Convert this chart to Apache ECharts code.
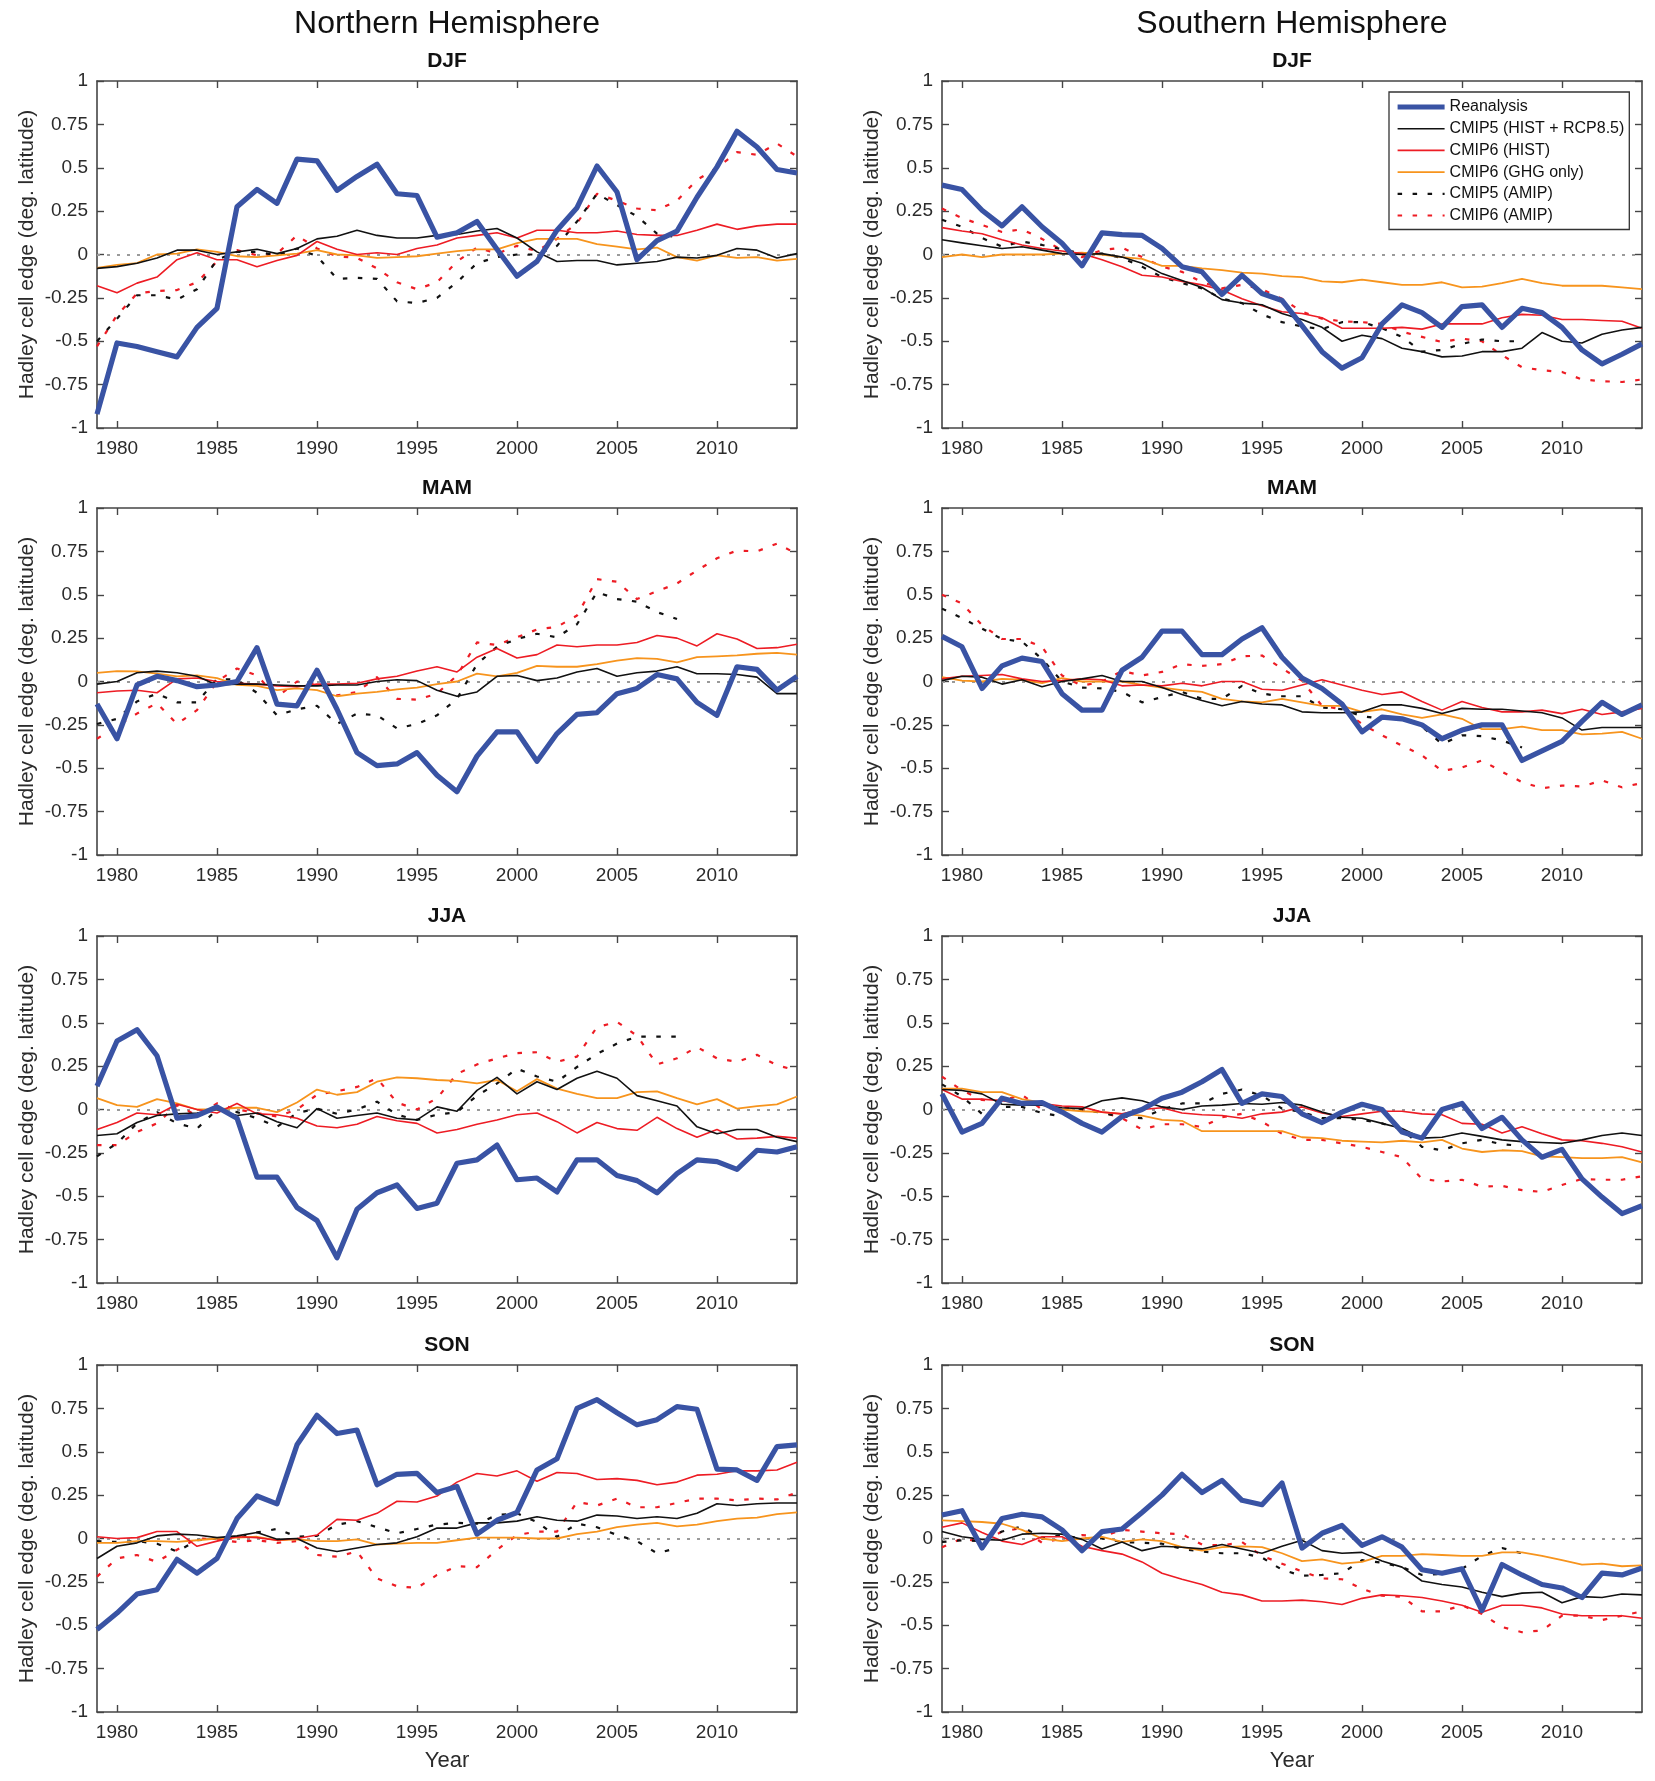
<!DOCTYPE html>
<html>
<head>
<meta charset="utf-8">
<script src="https://cdn.jsdelivr.net/npm/echarts@6/dist/echarts.min.js"></script>
<style>
html,body{margin:0;padding:0;background:#fff;}
#chart{width:1655px;height:1781px;}
</style>
</head>
<body>
<div id="chart"></div>
<script>
// ---------- categories & ticks ----------
const years = [1979,1980,1981,1982,1983,1984,1985,1986,1987,1988,1989,1990,1991,1992,1993,1994,1995,1996,1997,1998,1999,2000,2001,2002,2003,2004,2005,2006,2007,2008,2009,2010,2011,2012,2013,2014];
const xTickYears = [1980,1985,1990,1995,2000,2005,2010];
const seasons = ['DJF','MAM','JJA','SON'];
const hemispheres = ['Northern Hemisphere','Southern Hemisphere'];
const seriesNames = ['Reanalysis','CMIP5 (HIST + RCP8.5)','CMIP6 (HIST)','CMIP6 (GHG only)','CMIP5 (AMIP)','CMIP6 (AMIP)'];

// ---------- NH DJF ----------
const nhDjfRea   = [-0.92,-0.51,-0.53,-0.56,-0.59,-0.42,-0.31,0.275,0.375,0.295,0.55,0.54,0.37,0.45,0.52,0.35,0.34,0.10,0.125,0.19,0.03,-0.125,-0.04,0.14,0.27,0.51,0.36,-0.03,0.08,0.135,0.33,0.505,0.71,0.62,0.49,0.47];
const nhDjfC5    = [-0.08,-0.07,-0.05,-0.02,0.025,0.025,0,0.015,0.03,0.005,0.035,0.09,0.105,0.14,0.11,0.095,0.095,0.11,0.115,0.135,0.15,0.095,0.015,-0.04,-0.035,-0.035,-0.06,-0.05,-0.04,-0.015,-0.02,-0.005,0.035,0.025,-0.02,0.005];
const nhDjfC6    = [-0.18,-0.22,-0.165,-0.13,-0.03,0.01,-0.03,-0.03,-0.07,-0.035,-0.005,0.075,0.03,0,0.01,0,0.035,0.055,0.095,0.11,0.125,0.095,0.14,0.14,0.125,0.125,0.135,0.115,0.11,0.11,0.14,0.175,0.145,0.165,0.175,0.175];
const nhDjfGhg   = [-0.077,-0.06,-0.05,0,0.005,0.03,0.015,-0.01,-0.015,-0.005,0.005,0.025,0,-0.005,-0.02,-0.015,-0.01,0.005,0.02,0.03,0.03,0.065,0.09,0.09,0.09,0.06,0.045,0.03,0.04,-0.015,-0.035,-0.005,-0.02,-0.015,-0.035,-0.025];
const nhDjfAmip5 = [-0.5,-0.37,-0.235,-0.235,-0.26,-0.2,-0.03,0.015,0.015,-0.005,0.035,-0.01,-0.14,-0.135,-0.14,-0.27,-0.28,-0.25,-0.16,-0.05,-0.015,0,0,0.05,0.19,0.35,0.285,0.22,0.12,0.1];
const nhDjfAmip6 = [-0.53,-0.35,-0.225,-0.21,-0.205,-0.16,-0.04,0.025,-0.005,0.005,0.11,0.035,-0.01,-0.02,-0.08,-0.16,-0.2,-0.16,-0.04,0.04,0.005,0.05,0.02,0.09,0.18,0.35,0.31,0.265,0.255,0.31,0.43,0.5,0.59,0.575,0.64,0.565];

// ---------- SH DJF ----------
const shDjfRea   = [0.40,0.375,0.255,0.165,0.275,0.16,0.065,-0.065,0.125,0.115,0.11,0.035,-0.07,-0.1,-0.23,-0.12,-0.225,-0.265,-0.41,-0.56,-0.655,-0.595,-0.40,-0.29,-0.335,-0.42,-0.30,-0.29,-0.42,-0.31,-0.335,-0.42,-0.55,-0.63,-0.575,-0.515];
const shDjfC5    = [0.085,0.067,0.05,0.035,0.045,0.025,0.005,0,0.005,-0.015,-0.05,-0.11,-0.15,-0.19,-0.26,-0.28,-0.29,-0.34,-0.375,-0.42,-0.50,-0.465,-0.485,-0.54,-0.56,-0.59,-0.585,-0.56,-0.56,-0.54,-0.45,-0.50,-0.51,-0.46,-0.435,-0.42];
const shDjfC6    = [0.155,0.135,0.12,0.085,0.055,0.035,0.02,0.005,-0.03,-0.07,-0.12,-0.13,-0.155,-0.175,-0.205,-0.255,-0.295,-0.33,-0.34,-0.365,-0.425,-0.425,-0.425,-0.42,-0.43,-0.40,-0.40,-0.40,-0.365,-0.345,-0.35,-0.375,-0.375,-0.38,-0.385,-0.425];
const shDjfGhg   = [-0.015,0,-0.015,0,0,0,0.005,0.01,0,-0.015,-0.025,-0.065,-0.065,-0.08,-0.09,-0.105,-0.11,-0.125,-0.13,-0.155,-0.16,-0.145,-0.16,-0.175,-0.175,-0.16,-0.19,-0.185,-0.165,-0.14,-0.165,-0.18,-0.18,-0.18,-0.19,-0.20];
const shDjfAmip5 = [0.2,0.16,0.095,0.045,0.075,0.055,0.03,0.005,0.005,-0.02,-0.07,-0.13,-0.165,-0.195,-0.255,-0.28,-0.345,-0.39,-0.415,-0.43,-0.39,-0.39,-0.425,-0.475,-0.56,-0.55,-0.515,-0.49,-0.50,-0.50];
const shDjfAmip6 = [0.265,0.21,0.17,0.13,0.145,0.09,0.025,-0.015,0.025,0.04,-0.015,-0.07,-0.1,-0.16,-0.195,-0.175,-0.2,-0.255,-0.33,-0.37,-0.385,-0.39,-0.40,-0.445,-0.475,-0.505,-0.485,-0.50,-0.58,-0.65,-0.667,-0.677,-0.72,-0.73,-0.735,-0.72];

// ---------- NH MAM ----------
const nhMamRea   = [-0.13,-0.33,-0.02,0.03,0.005,-0.03,-0.02,0,0.195,-0.13,-0.14,0.065,-0.16,-0.41,-0.485,-0.475,-0.41,-0.54,-0.635,-0.43,-0.29,-0.29,-0.46,-0.30,-0.19,-0.18,-0.07,-0.04,0.04,0.015,-0.12,-0.195,0.085,0.07,-0.05,0.03];
const nhMamC5    = [-0.015,0,0.05,0.06,0.05,0.03,-0.02,-0.015,-0.015,-0.02,-0.025,-0.025,-0.02,-0.02,0,0.01,0.005,-0.05,-0.085,-0.06,0.03,0.035,0.005,0.02,0.055,0.075,0.03,0.05,0.06,0.085,0.045,0.045,0.04,0.025,-0.07,-0.07];
const nhMamC6    = [-0.065,-0.055,-0.05,-0.065,0.015,0.02,0,-0.01,-0.015,-0.025,-0.03,-0.015,-0.015,-0.01,0.015,0.03,0.06,0.085,0.055,0.14,0.19,0.135,0.155,0.21,0.2,0.21,0.21,0.225,0.265,0.25,0.205,0.275,0.245,0.19,0.195,0.215];
const nhMamGhg   = [0.05,0.06,0.058,0.045,0.03,0.035,0.02,-0.02,-0.025,-0.05,-0.04,-0.05,-0.085,-0.07,-0.06,-0.045,-0.035,-0.015,0,0.045,0.03,0.05,0.09,0.085,0.085,0.10,0.12,0.135,0.13,0.11,0.14,0.145,0.15,0.16,0.165,0.155];
const nhMamAmip5 = [-0.245,-0.215,-0.115,-0.07,-0.12,-0.12,0.015,0.01,-0.065,-0.195,-0.16,-0.14,-0.245,-0.185,-0.195,-0.27,-0.245,-0.195,-0.10,0.10,0.2,0.245,0.275,0.255,0.33,0.515,0.475,0.46,0.40,0.36];
const nhMamAmip6 = [-0.33,-0.255,-0.185,-0.125,-0.245,-0.165,0,0.075,0.035,-0.09,0,-0.015,-0.08,-0.06,0.025,-0.1,-0.105,-0.07,0.035,0.225,0.21,0.255,0.30,0.315,0.38,0.59,0.575,0.475,0.52,0.565,0.64,0.71,0.755,0.75,0.795,0.735];

// ---------- SH MAM ----------
const shMamRea   = [0.26,0.2,-0.04,0.09,0.135,0.115,-0.07,-0.165,-0.165,0.065,0.14,0.29,0.29,0.155,0.155,0.245,0.31,0.14,0.02,-0.04,-0.13,-0.29,-0.205,-0.215,-0.25,-0.33,-0.28,-0.25,-0.25,-0.455,-0.4,-0.345,-0.23,-0.12,-0.19,-0.135];
const shMamC5    = [0.005,0.03,0.025,-0.015,0.01,-0.03,0,0.015,0.035,0,0,-0.035,-0.075,-0.11,-0.14,-0.115,-0.13,-0.135,-0.175,-0.18,-0.18,-0.175,-0.135,-0.135,-0.155,-0.185,-0.155,-0.16,-0.16,-0.17,-0.18,-0.21,-0.28,-0.265,-0.265,-0.265];
const shMamC6    = [0.015,0.03,0.035,0.04,0.015,0,0.005,0.015,0.01,-0.025,-0.02,-0.025,-0.01,-0.025,0,0,-0.045,-0.05,-0.02,0.01,-0.02,-0.05,-0.075,-0.06,-0.115,-0.165,-0.115,-0.15,-0.175,-0.175,-0.165,-0.185,-0.16,-0.19,-0.175,-0.155];
const shMamGhg   = [0.025,0.005,0,0.015,0.01,-0.01,0.02,0,0,0,-0.02,-0.035,-0.05,-0.06,-0.10,-0.115,-0.12,-0.10,-0.12,-0.14,-0.14,-0.175,-0.16,-0.19,-0.21,-0.19,-0.215,-0.275,-0.275,-0.26,-0.28,-0.28,-0.305,-0.30,-0.29,-0.33];
const shMamAmip5 = [0.42,0.365,0.305,0.245,0.23,0.13,0,-0.035,-0.04,-0.06,-0.12,-0.09,-0.06,-0.10,-0.10,-0.025,-0.07,-0.085,-0.085,-0.15,-0.16,-0.20,-0.215,-0.21,-0.26,-0.36,-0.31,-0.315,-0.34,-0.38];
const shMamAmip6 = [0.5,0.45,0.325,0.245,0.245,0.2,0.035,-0.025,0,0.06,0.035,0.055,0.10,0.09,0.10,0.145,0.15,0.075,0.005,-0.14,-0.16,-0.245,-0.31,-0.37,-0.425,-0.515,-0.495,-0.455,-0.52,-0.58,-0.615,-0.60,-0.605,-0.57,-0.61,-0.585];

// ---------- NH JJA ----------
const nhJjaRea   = [0.135,0.395,0.46,0.31,-0.05,-0.035,0.015,-0.05,-0.39,-0.39,-0.565,-0.64,-0.855,-0.575,-0.48,-0.435,-0.57,-0.54,-0.31,-0.29,-0.205,-0.405,-0.395,-0.475,-0.29,-0.29,-0.38,-0.41,-0.48,-0.37,-0.29,-0.30,-0.345,-0.235,-0.245,-0.215];
const nhJjaC5    = [-0.15,-0.14,-0.075,-0.035,-0.025,-0.02,0,-0.035,-0.02,-0.07,-0.105,0.005,-0.05,-0.035,-0.02,-0.05,-0.06,0.015,-0.01,0.11,0.185,0.09,0.16,0.115,0.18,0.22,0.18,0.08,0.05,0.02,-0.10,-0.14,-0.115,-0.115,-0.16,-0.185];
const nhJjaC6    = [-0.115,-0.075,-0.02,-0.03,0.03,0,-0.02,0.035,-0.025,-0.03,-0.05,-0.095,-0.105,-0.085,-0.04,-0.065,-0.08,-0.135,-0.115,-0.085,-0.06,-0.03,-0.02,-0.07,-0.135,-0.075,-0.11,-0.12,-0.045,-0.11,-0.16,-0.115,-0.17,-0.165,-0.155,-0.165];
const nhJjaGhg   = [0.065,0.025,0.015,0.06,0.035,0,0,0.01,0.01,-0.015,0.04,0.115,0.085,0.10,0.16,0.185,0.18,0.17,0.165,0.15,0.17,0.105,0.175,0.12,0.09,0.065,0.065,0.10,0.105,0.065,0.03,0.06,0.005,0.02,0.03,0.075];
const nhJjaAmip5 = [-0.27,-0.195,-0.08,-0.015,-0.08,-0.11,0,-0.015,-0.05,-0.1,-0.02,0.005,-0.025,0,0.045,-0.03,-0.06,-0.03,-0.015,0.08,0.15,0.235,0.19,0.16,0.245,0.32,0.38,0.42,0.42,0.42];
const nhJjaAmip6 = [-0.205,-0.205,-0.13,-0.08,0.025,-0.035,0.035,0,-0.02,-0.04,0,0.085,0.105,0.13,0.18,0.04,0,0.065,0.205,0.26,0.295,0.325,0.33,0.275,0.305,0.475,0.505,0.425,0.26,0.295,0.36,0.295,0.275,0.315,0.255,0.225];

// ---------- SH JJA ----------
const shJjaRea   = [0.09,-0.13,-0.08,0.065,0.035,0.04,-0.015,-0.08,-0.13,-0.04,0,0.065,0.10,0.16,0.23,0.035,0.09,0.075,-0.025,-0.075,-0.015,0.03,0,-0.13,-0.165,0,0.035,-0.11,-0.045,-0.175,-0.275,-0.23,-0.40,-0.505,-0.60,-0.555];
const shJjaC5    = [0.115,0.11,0.09,0.03,0.025,0.025,0.01,0.005,0.05,0.067,0.05,0.015,0,0.02,0.025,0.035,0.03,0.04,0.025,-0.015,-0.045,-0.05,-0.08,-0.11,-0.165,-0.16,-0.135,-0.155,-0.175,-0.185,-0.19,-0.195,-0.175,-0.15,-0.135,-0.15];
const shJjaC6    = [0.115,0.06,0.06,0.05,0.035,0.035,0.02,0.015,-0.015,-0.025,0,0.01,-0.02,-0.03,-0.035,-0.05,-0.025,-0.015,0.015,-0.02,-0.04,-0.025,-0.01,-0.01,-0.025,-0.03,-0.08,-0.085,-0.135,-0.10,-0.14,-0.175,-0.18,-0.195,-0.215,-0.245];
const shJjaGhg   = [0.12,0.12,0.10,0.10,0.06,0.04,0,-0.01,-0.015,-0.025,-0.035,-0.06,-0.065,-0.125,-0.125,-0.125,-0.125,-0.125,-0.16,-0.165,-0.18,-0.185,-0.19,-0.18,-0.19,-0.175,-0.225,-0.245,-0.235,-0.24,-0.27,-0.275,-0.28,-0.28,-0.275,-0.305];
const shJjaAmip5 = [0.145,0.075,-0.025,0.015,0.015,-0.02,-0.04,0,-0.02,-0.04,-0.05,0,0.035,0.035,0.09,0.115,0.08,0.005,-0.015,-0.05,-0.05,-0.06,-0.08,-0.115,-0.215,-0.235,-0.195,-0.175,-0.2,-0.21];
const shJjaAmip6 = [0.19,0.11,0.055,0.05,0.085,0,0.015,0,-0.015,-0.05,-0.115,-0.085,-0.085,-0.10,-0.045,-0.025,-0.07,-0.14,-0.175,-0.175,-0.195,-0.215,-0.245,-0.275,-0.40,-0.415,-0.405,-0.445,-0.44,-0.465,-0.475,-0.435,-0.40,-0.405,-0.405,-0.385];

// ---------- NH SON ----------
const nhSonRea   = [-0.525,-0.43,-0.32,-0.295,-0.12,-0.2,-0.115,0.115,0.245,0.2,0.54,0.71,0.605,0.625,0.31,0.37,0.375,0.265,0.30,0.025,0.105,0.15,0.395,0.46,0.75,0.80,0.725,0.655,0.685,0.76,0.745,0.40,0.395,0.335,0.53,0.54];
const nhSonC5    = [-0.115,-0.045,-0.025,0.015,0.025,0.02,0.005,0.015,0.035,-0.005,0,-0.055,-0.075,-0.055,-0.035,-0.025,0.01,0.06,0.06,0.09,0.09,0.10,0.125,0.105,0.10,0.135,0.13,0.115,0.125,0.115,0.145,0.20,0.19,0.20,0.205,0.205];
const nhSonC6    = [0.01,0,0.005,0.04,0.04,-0.045,-0.015,0.01,0.005,-0.01,0,0.02,0.11,0.105,0.145,0.215,0.21,0.245,0.325,0.375,0.36,0.39,0.33,0.38,0.375,0.34,0.345,0.335,0.31,0.325,0.365,0.37,0.39,0.39,0.395,0.44];
const nhSonGhg   = [-0.025,-0.025,-0.015,-0.015,-0.02,-0.01,0,0.005,0.01,-0.01,-0.005,-0.015,-0.015,-0.005,-0.035,-0.03,-0.025,-0.025,-0.01,0.005,0.005,0.005,0,0,0.025,0.04,0.065,0.08,0.09,0.07,0.08,0.10,0.115,0.12,0.14,0.15];
const nhSonAmip5 = [-0.015,-0.02,-0.015,-0.03,-0.075,-0.01,0,0,0.035,0.055,0.01,0.015,0.08,0.10,0.065,0.03,0.055,0.08,0.09,0.085,0.135,0.145,0.095,0.01,0.085,0.065,0.02,-0.015,-0.085,-0.055];
const nhSonAmip6 = [-0.22,-0.115,-0.095,-0.135,-0.065,0,-0.005,-0.02,-0.01,-0.025,-0.015,-0.095,-0.105,-0.075,-0.23,-0.275,-0.285,-0.21,-0.16,-0.165,-0.065,0.02,0.04,0.04,0.21,0.19,0.23,0.18,0.18,0.205,0.23,0.23,0.22,0.23,0.225,0.265];

// ---------- SH SON ----------
const shSonRea   = [0.135,0.16,-0.055,0.115,0.14,0.125,0.05,-0.07,0.04,0.055,0.15,0.25,0.37,0.265,0.335,0.22,0.195,0.32,-0.055,0.03,0.075,-0.04,0.01,-0.05,-0.18,-0.20,-0.175,-0.415,-0.15,-0.21,-0.265,-0.285,-0.34,-0.20,-0.21,-0.17];
const shSonC5    = [0.04,0.01,-0.005,-0.01,0.025,0.03,0.025,-0.005,-0.06,-0.02,-0.07,-0.045,-0.05,-0.06,-0.035,-0.06,-0.085,-0.045,-0.01,-0.07,-0.085,-0.08,-0.13,-0.165,-0.245,-0.265,-0.28,-0.31,-0.335,-0.315,-0.31,-0.37,-0.335,-0.34,-0.32,-0.325];
const shSonC6    = [0.065,0.09,0.035,-0.015,-0.035,0.01,0.01,-0.045,-0.07,-0.09,-0.135,-0.20,-0.235,-0.265,-0.31,-0.325,-0.36,-0.36,-0.355,-0.365,-0.38,-0.345,-0.325,-0.33,-0.34,-0.36,-0.385,-0.425,-0.385,-0.385,-0.40,-0.435,-0.445,-0.445,-0.445,-0.46];
const shSonGhg   = [0.105,0.10,0.095,0.085,0.05,0,-0.015,0,0.01,-0.02,-0.005,-0.015,-0.05,-0.07,-0.05,-0.045,-0.05,-0.085,-0.13,-0.12,-0.145,-0.135,-0.10,-0.10,-0.09,-0.095,-0.10,-0.10,-0.08,-0.08,-0.10,-0.125,-0.15,-0.145,-0.16,-0.155];
const shSonAmip5 = [-0.02,-0.01,-0.015,0.04,0.07,0,0.02,0,0,-0.02,-0.025,-0.03,-0.06,-0.075,-0.085,-0.085,-0.11,-0.18,-0.215,-0.21,-0.2,-0.125,-0.14,-0.165,-0.21,-0.205,-0.175,-0.10,-0.055,-0.085];
const shSonAmip6 = [-0.05,0,-0.02,0.04,0.06,-0.025,0,0.02,0.01,0.05,0.04,0.03,0.025,-0.035,-0.04,-0.02,-0.10,-0.145,-0.19,-0.23,-0.235,-0.29,-0.33,-0.335,-0.42,-0.42,-0.385,-0.435,-0.51,-0.54,-0.53,-0.445,-0.445,-0.47,-0.445,-0.42];

// ---------- panel table (built from the arrays above) ----------
const panels = [
  [[nhDjfRea,nhDjfC5,nhDjfC6,nhDjfGhg,nhDjfAmip5,nhDjfAmip6],[shDjfRea,shDjfC5,shDjfC6,shDjfGhg,shDjfAmip5,shDjfAmip6]],
  [[nhMamRea,nhMamC5,nhMamC6,nhMamGhg,nhMamAmip5,nhMamAmip6],[shMamRea,shMamC5,shMamC6,shMamGhg,shMamAmip5,shMamAmip6]],
  [[nhJjaRea,nhJjaC5,nhJjaC6,nhJjaGhg,nhJjaAmip5,nhJjaAmip6],[shJjaRea,shJjaC5,shJjaC6,shJjaGhg,shJjaAmip5,shJjaAmip6]],
  [[nhSonRea,nhSonC5,nhSonC6,nhSonGhg,nhSonAmip5,nhSonAmip6],[shSonRea,shSonC5,shSonC6,shSonGhg,shSonAmip5,shSonAmip6]]
];

// ---------- styles & layout ----------
const FONT = '"Liberation Sans", Arial, Helvetica, sans-serif';
const AXIS_COLOR = '#454545';
const TEXT_COLOR = '#2b2b2b';
const lineStyles = [
  {color:'#3953a4', width:5.2, type:'solid'},
  {color:'#111111', width:1.6, type:'solid'},
  {color:'#ed1c24', width:1.6, type:'solid'},
  {color:'#f7941d', width:1.8, type:'solid'},
  {color:'#111111', width:2.2, type:[4.5,10.5]},
  {color:'#ed1c24', width:2.2, type:[4.5,10.5]}
];
const drawOrder = [5,4,3,2,1,0];
const colLeft = [97, 942];
const rowTop = [81, 508, 936, 1365];
const plotW = 700, plotH = 347;

const grids = [], xAxes = [], yAxes = [], series = [], titles = [];
const tickFn = (idx, val) => xTickYears.indexOf(Number(val)) >= 0;

hemispheres.forEach((h, c) => {
  titles.push({text:h, left: colLeft[c] + plotW/2, top: 8, textAlign:'center', padding:0,
    textStyle:{fontSize:32, fontWeight:'normal', color:'#111', fontFamily:FONT}});
});

for (let r = 0; r < 4; r++) {
  for (let c = 0; c < 2; c++) {
    const gi = grids.length;
    grids.push({left: colLeft[c], top: rowTop[r], width: plotW, height: plotH, outerBoundsMode:'none', containLabel:false});
    titles.push({text: seasons[r], left: colLeft[c] + plotW/2, top: rowTop[r] - 30, textAlign:'center', padding:0,
      textStyle:{fontSize:21, fontWeight:'bold', color:'#111', fontFamily:FONT}});
    const isBottom = (r === 3);
    xAxes.push({
      gridIndex: gi, type:'category', data: years, boundaryGap:false, position:'bottom',
      name: isBottom ? 'Year' : '', nameLocation:'middle', nameGap: 38,
      nameTextStyle:{fontSize:22, color:TEXT_COLOR, fontFamily:FONT},
      axisLine:{show:true, onZero:false, lineStyle:{color:AXIS_COLOR, width:1.6}},
      axisTick:{show:true, inside:true, length:7, interval: tickFn, lineStyle:{color:AXIS_COLOR, width:1.4}},
      axisLabel:{show:true, interval: tickFn, margin:11, fontSize:19, color:TEXT_COLOR, fontFamily:FONT},
      splitLine:{show:false}
    });
    xAxes.push({
      gridIndex: gi, type:'category', data: years, boundaryGap:false, position:'top',
      axisLine:{show:true, onZero:false, lineStyle:{color:AXIS_COLOR, width:1.6}},
      axisTick:{show:true, inside:true, length:7, interval: tickFn, lineStyle:{color:AXIS_COLOR, width:1.4}},
      axisLabel:{show:false}, splitLine:{show:false}
    });
    yAxes.push({
      gridIndex: gi, type:'value', min:-1, max:1, interval:0.25, position:'left',
      name:'Hadley cell edge (deg. latitude)', nameLocation:'middle', nameGap:59,
      nameTextStyle:{fontSize:21, color:TEXT_COLOR, fontFamily:FONT},
      axisLine:{show:true, onZero:false, lineStyle:{color:AXIS_COLOR, width:1.6}},
      axisTick:{show:true, inside:true, length:7, lineStyle:{color:AXIS_COLOR, width:1.4}},
      axisLabel:{show:true, margin:9, fontSize:19, color:TEXT_COLOR, fontFamily:FONT},
      splitLine:{show:false}
    });
    yAxes.push({
      gridIndex: gi, type:'value', min:-1, max:1, interval:0.25, position:'right',
      axisLine:{show:true, onZero:false, lineStyle:{color:AXIS_COLOR, width:1.6}},
      axisTick:{show:true, inside:true, length:7, lineStyle:{color:AXIS_COLOR, width:1.4}},
      axisLabel:{show:false}, splitLine:{show:false}
    });
    const arrs = panels[r][c];
    drawOrder.forEach((k, j) => {
      const s = {
        type:'line', name: seriesNames[k], xAxisIndex: 2*gi, yAxisIndex: 2*gi,
        data: arrs[k], symbol:'none', showSymbol:false, smooth:false,
        lineStyle: Object.assign({cap:'butt', join:'round'}, lineStyles[k]),
        itemStyle:{color: lineStyles[k].color},
        emphasis:{disabled:true}, animation:false, silent:true
      };
      if (j === 0) {
        s.markLine = {
          silent:true, symbol:['none','none'], z:1, animation:false,
          label:{show:false}, emphasis:{disabled:true},
          lineStyle:{color:'#9a9a9a', type:[3,7], width:1.8},
          data:[{yAxis:0}]
        };
      }
      series.push(s);
    });
  }
}

const chart = echarts.init(document.getElementById('chart'), null, {renderer:'canvas'});
chart.setOption({
  backgroundColor:'#ffffff',
  animation:false,
  textStyle:{fontFamily:FONT},
  title: titles,
  grid: grids,
  xAxis: xAxes,
  yAxis: yAxes,
  legend: {
    data: seriesNames, orient:'vertical', left:1389, top:92,
    itemWidth:47, itemHeight:14, itemGap:5.7, padding:[7,5,6,6],
    borderColor:'#333', borderWidth:1.3, backgroundColor:'#ffffff',
    selectedMode:false,
    textStyle:{fontSize:16, color:'#111', fontFamily:FONT, lineHeight:16},
    lineStyle:{width:'inherit'},
    itemStyle:{opacity:0}
  },
  series: series
});
</script>
</body>
</html>
